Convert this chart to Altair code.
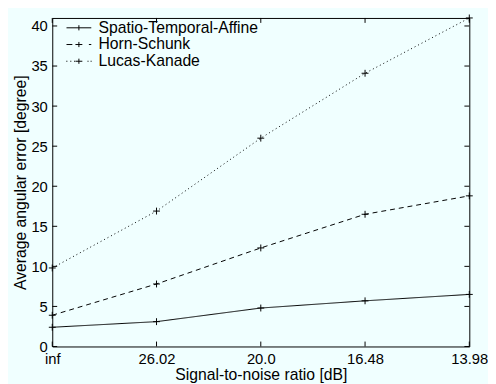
import altair as alt
import pandas as pd

snr_labels = ["inf", "26.02", "20.0", "16.48", "13.98"]
series_names = ["Spatio-Temporal-Affine", "Horn-Schunk", "Lucas-Kanade"]
sta = [2.4, 3.1, 4.8, 5.7, 6.5]
hs = [3.9, 7.8, 12.3, 16.5, 18.8]
lk = [9.8, 16.9, 26.0, 34.1, 41.0]
y_ticks = [0, 5, 10, 15, 20, 25, 30, 35, 40]

rows = []
for name, vals in zip(series_names, [sta, hs, lk]):
    for lab, v in zip(snr_labels, vals):
        rows.append({"snr": lab, "err": v, "method": name})
df = pd.DataFrame(rows)
ytick_df = pd.DataFrame({"err": y_ticks})
xtick_df = pd.DataFrame({"snr": snr_labels})

W, H = 424, 334
TICK = 5
FONT = "Liberation Sans"
FS = 15
TFS = 16
PLUS = "M-1,0H1M0,-1V1"
legend_paths = [
    "M-2.15,0H5.05M1.45,-0.75V0.75",
    "M-2.15,0H-0.45M0.45,0H2.45M4.35,0H5.05M1.45,-0.75V0.75",
    "M-2.2,0H-1.9M-1.05,0H-0.75M0.05,0H0.35M0.45,0H2.45M3.95,0H4.25M4.85,0H5.15M1.45,-0.75V0.75",
]

xscale = alt.Scale(type="point", padding=0, domain=snr_labels)
yscale = alt.Scale(domain=[0, 41], nice=False, zero=True)
xaxis = alt.Axis(orient="bottom", title="Signal-to-noise ratio [dB]", ticks=False,
                 domain=False, grid=False, labelAngle=0, labelPadding=5,
                 labelFlush=False, titlePadding=1)
yaxis = alt.Axis(orient="left", title="Average angular error [degree]", values=y_ticks,
                 ticks=False, domain=False, grid=False, labelPadding=5, titlePadding=3)

X = alt.X("snr:N", sort=snr_labels, scale=xscale, axis=xaxis)
Y = alt.Y("err:Q", scale=yscale, axis=yaxis)

base = alt.Chart(df)

lines = base.mark_line(color="black", strokeWidth=1).encode(
    x=X, y=Y,
    strokeDash=alt.StrokeDash("method:N", scale=alt.Scale(domain=series_names,
                              range=[[1, 0], [5, 4], [1, 3]]), legend=None),
    detail="method:N",
)

points = base.mark_point(shape=PLUS, size=49, color="black", strokeWidth=1,
                         filled=False, opacity=1).encode(x=X, y=Y)

legend_layer = base.mark_point(filled=False, color="black", opacity=0).encode(
    x=X, y=Y,
    shape=alt.Shape("method:N", scale=alt.Scale(domain=series_names, range=legend_paths),
                    legend=alt.Legend(title=None, orient="none", legendX=14, legendY=2,
                                      symbolSize=49, symbolStrokeColor="black",
                                      symbolFillColor="transparent", symbolStrokeWidth=1,
                                      symbolOpacity=1, labelFontSize=TFS, labelFont=FONT,
                                      labelColor="black", labelOffset=17, rowPadding=1,
                                      labelLimit=0, padding=0)),
)

tick_style = dict(color="black", strokeWidth=1)
yt = alt.Chart(ytick_df)
xt = alt.Chart(xtick_df)
tick_left = yt.mark_rule(**tick_style).encode(y=Y, x=alt.value(0), x2=alt.value(TICK))
tick_right = yt.mark_rule(**tick_style).encode(y=Y, x=alt.value(W - TICK), x2=alt.value(W))
tick_bottom = xt.mark_rule(**tick_style).encode(x=X, y=alt.value(H - TICK), y2=alt.value(H))
tick_top = xt.mark_rule(**tick_style).encode(x=X, y=alt.value(0), y2=alt.value(TICK))

chart = alt.layer(
    lines, points, legend_layer, tick_left, tick_right, tick_bottom, tick_top
).resolve_legend(shape="independent", strokeDash="independent").properties(
    width=W, height=H,
    background="#F0FFFF",
    autosize=alt.AutoSizeParams(type="none"),
    padding={"left": 45, "top": 7, "right": 19, "bottom": 35},
).configure_view(stroke="black", strokeWidth=1, fill="#F0FFFF").configure_axis(
    labelFont=FONT, titleFont=FONT, labelFontSize=FS, titleFontSize=TFS,
    labelColor="black", titleColor="black", titleFontWeight="normal",
)

chart.save("out.html", embed_options={"renderer": "svg", "actions": False})
